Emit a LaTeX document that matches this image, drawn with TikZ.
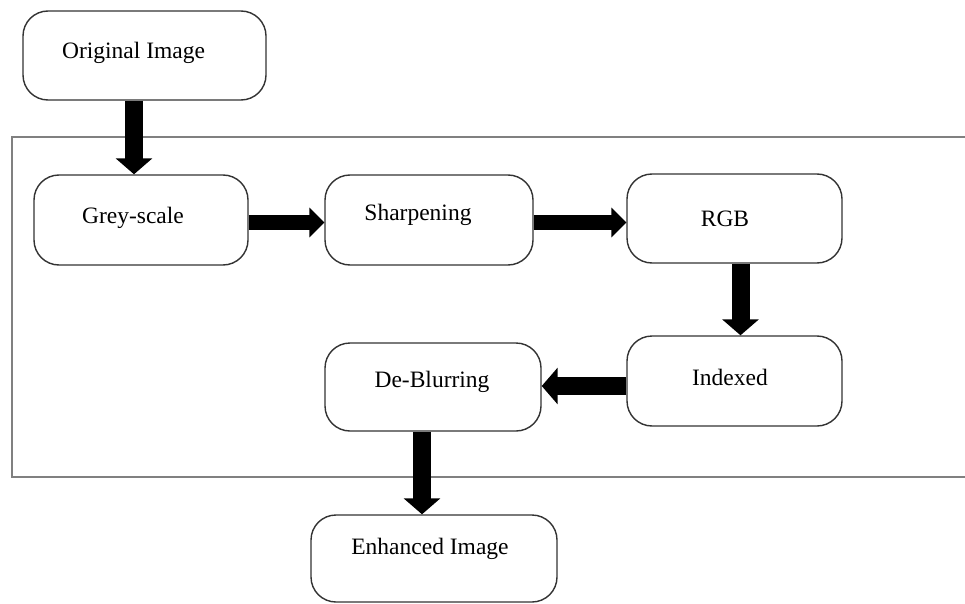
\documentclass[tikz,border=0pt]{standalone}
\usepackage{fontspec}
\setmainfont{Liberation Serif}
\usetikzlibrary{arrows.meta}
\begin{document}
\begin{tikzpicture}[x=1pt,y=-1pt,
  box/.style={draw=black!80,line width=1.4pt,rounded corners=25pt,fill=white,inner sep=0pt},
  lbl/.style={font=\fontsize{23.5pt}{26pt}\selectfont,inner sep=0pt},
  bigarr/.style={line width=18pt,-{Triangle[width=36pt,length=16pt]}},
  smallarr/.style={line width=15pt,-{Triangle[width=29pt,length=15pt]}}]
\useasboundingbox (0,0) rectangle (965,604);
\clip (0,0) rectangle (965,604);
% enclosing frame (right edge outside the picture)
\draw[draw=black!50,line width=2pt] (12,137) rectangle (990,477);
% boxes
\node[box,minimum width=243pt,minimum height=89pt,label={[lbl,xshift=-11pt,yshift=3pt]center:Original Image}] (orig) at (144.5,55.5) {};
\node[box,minimum width=214pt,minimum height=90pt,label={[lbl,xshift=-8pt,yshift=2pt]center:Grey-scale}] (grey) at (141,220) {};
\node[box,minimum width=208pt,minimum height=90pt,label={[lbl,xshift=-11pt,yshift=5pt]center:Sharpening}] (sharp) at (429,220) {};
\node[box,minimum width=215pt,minimum height=89pt,label={[lbl,xshift=-9.5pt,yshift=0pt]center:RGB}] (rgb) at (734.5,218.5) {};
\node[box,minimum width=215pt,minimum height=90pt,label={[lbl,xshift=-4.5pt,yshift=4pt]center:Indexed}] (idx) at (734.5,381) {};
\node[box,minimum width=216pt,minimum height=88pt,label={[lbl,xshift=-1pt,yshift=5pt]center:De-Blurring}] (deblur) at (433,387) {};
\node[box,minimum width=246pt,minimum height=87pt,label={[lbl,xshift=-4pt,yshift=10pt]center:Enhanced Image}] (enh) at (434,558.5) {};
% arrows
\draw[bigarr] ([xshift=-10.5pt]orig.south) -- ([xshift=-7pt]grey.north);
\draw[smallarr] ([yshift=-2.5pt]grey.east) -- ([yshift=-2.5pt]sharp.west);
\draw[smallarr] ([yshift=-2.5pt]sharp.east) -- ([yshift=-4pt]rgb.west);
\draw[bigarr] ([xshift=6pt]rgb.south) -- ([xshift=6pt]idx.north);
\draw[bigarr] ([yshift=-5pt]idx.west) -- ([yshift=1pt]deblur.east);
\draw[bigarr] ([xshift=-11pt]deblur.south) -- ([xshift=-12pt]enh.north);
\end{tikzpicture}
\end{document}
